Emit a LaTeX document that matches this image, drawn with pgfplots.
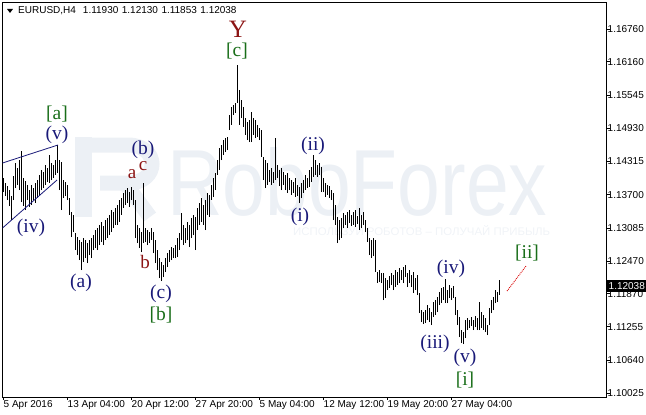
\documentclass[border=0pt]{standalone}
\usepackage{fontspec}
\setmainfont{Liberation Sans}
\newfontfamily\tms{Liberation Serif}
\usepackage{graphicx}
\usepackage{pgfplots}
\pgfplotsset{compat=1.18}
\usepackage{pgfplotstable}

\definecolor{navyl}{RGB}{25,25,120}
\definecolor{redl}{RGB}{140,20,20}
\definecolor{greenl}{RGB}{25,110,25}
\definecolor{wm}{RGB}{236,240,245}
\definecolor{wm2}{RGB}{240,243,247}

\pgfplotstableread{
i hi lo
0 1.14009 1.13750
1 1.13917 1.13676
2 1.13861 1.13602
3 1.13787 1.13491
4 1.13676 1.13232
5 1.14046 1.13602
6 1.14287 1.13824
7 1.14194 1.13880
8 1.14342 1.13787
9 1.14509 1.13565
10 1.14009 1.13491
11 1.13954 1.13417
12 1.13880 1.13602
13 1.13787 1.13473
14 1.13880 1.13510
15 1.13824 1.13602
16 1.13917 1.13547
17 1.13972 1.13639
18 1.14065 1.13695
19 1.14157 1.13787
20 1.14120 1.13824
21 1.14250 1.13880
22 1.14194 1.13935
23 1.14435 1.13917
24 1.14287 1.13972
25 1.14250 1.14009
26 1.14342 1.14065
27 1.14620 1.14102
28 1.14342 1.13787
29 1.14305 1.13417
30 1.13972 1.13639
31 1.13935 1.13676
32 1.13880 1.13602
33 1.13639 1.13325
34 1.13380 1.12918
35 1.13325 1.13010
36 1.12992 1.12677
37 1.12918 1.12585
38 1.12862 1.12492
39 1.12825 1.12307
40 1.12899 1.12455
41 1.12862 1.12529
42 1.12807 1.12437
43 1.12862 1.12585
44 1.12899 1.12529
45 1.12955 1.12677
46 1.13047 1.12714
47 1.13084 1.12677
48 1.13140 1.12770
49 1.13195 1.12825
50 1.13121 1.12770
51 1.13232 1.12862
52 1.13269 1.12899
53 1.13325 1.12955
54 1.13417 1.13010
55 1.13380 1.13084
56 1.13454 1.13140
57 1.13510 1.13140
58 1.13602 1.13195
59 1.13639 1.13325
60 1.13732 1.13454
61 1.13787 1.13510
62 1.13824 1.13547
63 1.13750 1.13473
64 1.13843 1.13602
65 1.13787 1.13510
66 1.13602 1.12899
67 1.13140 1.12807
68 1.13084 1.12714
69 1.13010 1.12640
70 1.13917 1.12807
71 1.13084 1.12825
72 1.13047 1.12770
73 1.13010 1.12807
74 1.13084 1.12862
75 1.13010 1.12622
76 1.12862 1.12437
77 1.12677 1.12307
78 1.12529 1.12159
79 1.12455 1.12104
80 1.12400 1.12178
81 1.12529 1.12270
82 1.12622 1.12363
83 1.12677 1.12455
84 1.12733 1.12492
85 1.12714 1.12529
86 1.12770 1.12529
87 1.12899 1.12548
88 1.12992 1.12677
89 1.13362 1.12862
90 1.13140 1.12770
91 1.13084 1.12807
92 1.13195 1.12862
93 1.13140 1.12733
94 1.13269 1.12899
95 1.13325 1.12955
96 1.13288 1.12677
97 1.13454 1.13047
98 1.13547 1.13140
99 1.13639 1.13195
100 1.13510 1.13140
101 1.13602 1.13047
102 1.13732 1.13325
103 1.13695 1.13288
104 1.13880 1.13602
105 1.14009 1.13658
106 1.14102 1.13787
107 1.14342 1.14065
108 1.14564 1.14157
109 1.14620 1.14342
110 1.14712 1.14435
111 1.14749 1.14490
112 1.14768 1.14527
113 1.15175 1.14897
114 1.15323 1.14990
115 1.15360 1.15175
116 1.15397 1.15212
117 1.16100 1.15397
118 1.15637 1.14990
119 1.15452 1.15119
120 1.15323 1.14953
121 1.15119 1.14805
122 1.15045 1.14712
123 1.15082 1.14675
124 1.15230 1.14675
125 1.15119 1.14805
126 1.15082 1.14749
127 1.14990 1.14768
128 1.14934 1.14712
129 1.14897 1.14398
130 1.14398 1.13972
131 1.14342 1.13824
132 1.14287 1.13880
133 1.14157 1.13935
134 1.14194 1.13880
135 1.14120 1.13917
136 1.14749 1.13972
137 1.14250 1.14009
138 1.14157 1.13861
139 1.14194 1.13787
140 1.14120 1.13880
141 1.14065 1.13787
142 1.14102 1.13732
143 1.14009 1.13787
144 1.13972 1.13695
145 1.13935 1.13732
146 1.14009 1.13658
147 1.13880 1.13676
148 1.13843 1.13547
149 1.13917 1.13639
150 1.13972 1.13732
151 1.14065 1.13787
152 1.14009 1.13824
153 1.14157 1.13843
154 1.14213 1.13935
155 1.14435 1.14028
156 1.14342 1.14065
157 1.14250 1.14028
158 1.14287 1.14065
159 1.14213 1.13750
160 1.14009 1.13750
161 1.13917 1.13658
162 1.13880 1.13695
163 1.13861 1.13639
164 1.13787 1.13602
165 1.13732 1.13232
166 1.13510 1.13140
167 1.13288 1.12807
168 1.13232 1.12862
169 1.13269 1.12899
170 1.13362 1.13084
171 1.13325 1.13140
172 1.13380 1.13084
173 1.13417 1.13177
174 1.13325 1.13121
175 1.13380 1.13140
176 1.13417 1.13103
177 1.13306 1.13158
178 1.13454 1.13047
179 1.13325 1.13084
180 1.13380 1.13140
181 1.13232 1.13010
182 1.13084 1.12825
183 1.12899 1.12585
184 1.12862 1.12529
185 1.12899 1.12566
186 1.12862 1.12270
187 1.12270 1.12067
188 1.12307 1.12085
189 1.12252 1.12067
190 1.12252 1.11752
191 1.12159 1.11789
192 1.12122 1.11937
193 1.12196 1.11974
194 1.12252 1.12030
195 1.12215 1.11937
196 1.12307 1.11993
197 1.12270 1.12030
198 1.12344 1.12067
199 1.12307 1.12122
200 1.12363 1.12067
201 1.12400 1.12178
202 1.12252 1.11993
203 1.12307 1.12067
204 1.12215 1.11993
205 1.12270 1.11882
206 1.12159 1.11937
207 1.12215 1.11845
208 1.11882 1.11512
209 1.11567 1.11345
210 1.11530 1.11308
211 1.11567 1.11327
212 1.11660 1.11382
213 1.11604 1.11345
214 1.11530 1.11290
215 1.11715 1.11438
216 1.11752 1.11475
217 1.11808 1.11530
218 1.11900 1.11660
219 1.11974 1.11697
220 1.11993 1.11752
221 1.12141 1.11697
222 1.11937 1.11697
223 1.12030 1.11789
224 1.11974 1.11752
225 1.12011 1.11789
226 1.11808 1.11475
227 1.11567 1.11290
228 1.11438 1.11068
229 1.11197 1.10957
230 1.11160 1.10938
231 1.11382 1.11049
232 1.11419 1.11197
233 1.11382 1.11234
234 1.11438 1.11271
235 1.11382 1.11197
236 1.11456 1.11253
237 1.11419 1.11197
238 1.11715 1.11197
239 1.11530 1.11234
240 1.11475 1.11197
241 1.11419 1.11160
242 1.11290 1.11105
243 1.11604 1.11290
244 1.11752 1.11512
245 1.11808 1.11567
246 1.11937 1.11697
247 1.11900 1.11715
248 1.12130 1.11853
}\bars

\tikzset{
  wl/.style={inner sep=0pt, font=\fontsize{19.5bp}{21bp}\selectfont\tms},
  wr/.style={inner sep=0pt, text=redl, font=\fontsize{19bp}{21bp}\selectfont\tms},
}

\begin{document}
\begin{tikzpicture}[x=1bp,y=1bp]
\useasboundingbox (0,0) rectangle (646,414);
% watermark (image coords: y_tikz = 414 - y)
\fill[wm] (75,277) rectangle (92,197);
\draw[wm, line width=15bp] (84,269) -- (128,269) .. controls (160,269) and (160,231) .. (128,231) -- (100,231);
\draw[wm, line width=15bp] (125,231) -- (150,197);
\node[anchor=base west, inner sep=0pt, text=wm] at (167,199) {\resizebox{380bp}{68bp}{RoboForex}};
\node[anchor=base west, inner sep=0pt, text=wm2] at (293,179) {\resizebox{257bp}{10bp}{ИСПОЛЬЗУЙ РОБОТОВ – ПОЛУЧАЙ ПРИБЫЛЬ}};

\begin{axis}[
  at={(2.5bp,17bp)}, anchor=south west, scale only axis,
  width=604bp, height=394bp,
  xmin=-0.25, xmax=301.75, ymin=1.09958, ymax=1.17247,
  axis line style={line width=1bp, black},
  tick align=outside, major tick length=3bp,
  tick style={black, line width=0.8bp},
  xtick pos=left, ytick pos=right, yticklabel pos=right,
  xtick={0,32,64,96,128,160,192,224},
  xticklabels={5 Apr 2016,13 Apr 04:00,20 Apr 12:00,27 Apr 20:00,5 May 04:00,12 May 12:00,19 May 20:00,27 May 04:00},
  ytick={1.10025,1.10640,1.11255,1.11870,1.12470,1.13085,1.13700,1.14315,1.14930,1.15545,1.16160,1.16760},
  yticklabels={1.10025,1.10640,1.11255,1.11870,1.12470,1.13085,1.13700,1.14315,1.14930,1.15545,1.16160,1.16760},
  ticklabel style={font=\fontsize{10bp}{12bp}\selectfont},
  xticklabel style={anchor=north west, inner sep=0pt, xshift=0.5bp},
  yticklabel style={anchor=west, inner sep=0pt, xshift=-2bp},
  clip=true,
]
\addplot[draw=none, mark=none,
  error bars/.cd, y dir=plus, y explicit, error mark=none,
  error bar style={draw=black, line width=0.9bp, solid}]
  table[x=i, y=lo, y error plus expr=\thisrow{hi}-\thisrow{lo}] {\bars};
% wedge lines
\addplot[navyl, line width=0.8bp] coordinates {(-0.25,1.14287) (27.5,1.14620)};
\addplot[navyl, line width=0.8bp] coordinates {(-0.25,1.13084) (27,1.13972)};
% projection
\addplot[red!85!black, line width=0.9bp, densely dotted] coordinates {(252,1.11918) (261.5,1.12381)};
% wave labels
\node[wl, text=greenl] at (axis cs:27,1.15193) {[a]};
\node[wl, text=navyl] at (axis cs:27,1.14805) {(v)};
\node[wl, text=navyl] at (axis cs:14,1.13084) {(iv)};
\node[wl, text=navyl] at (axis cs:39,1.12067) {(a)};
\node[wl, text=navyl] at (axis cs:70,1.14527) {(b)};
\node[wr] at (axis cs:64.5,1.14083) {a};
\node[wr] at (axis cs:70,1.14231) {c};
\node[wr] at (axis cs:71,1.12455) {b};
\node[wl, text=navyl] at (axis cs:79,1.11863) {(c)};
\node[wl, text=greenl] at (axis cs:79,1.11475) {[b]};
\node[inner sep=0pt, text=redl, font=\fontsize{25bp}{27bp}\selectfont\tms] at (axis cs:117.5,1.16765) {Y};
\node[wl, text=greenl] at (axis cs:117,1.16359) {[c]};
\node[wl, text=navyl] at (axis cs:155,1.14601) {(ii)};
\node[wl, text=navyl] at (axis cs:148.5,1.13288) {(i)};
\node[wl, text=navyl] at (axis cs:216,1.10938) {(iii)};
\node[wl, text=navyl] at (axis cs:224,1.12326) {(iv)};
\node[wl, text=navyl] at (axis cs:231,1.10679) {(v)};
\node[wl, text=greenl] at (axis cs:231,1.10272) {[i]};
\node[wl, text=greenl] at (axis cs:262,1.12622) {[ii]};
\end{axis}
% title
\fill[black] (7,405) -- (13,405) -- (10,401) -- cycle;
\node[anchor=base west, inner sep=0pt, font=\fontsize{10bp}{12bp}\selectfont] at (18,400) {EURUSD,H4\hspace{7bp}1.11930\hspace{3.5bp}1.12130\hspace{3.5bp}1.11853\hspace{3.5bp}1.12038};
% current price box
\fill[black] (607,122.5) rectangle (646,134);
\node[anchor=west, inner sep=0pt, text=white, font=\fontsize{10bp}{12bp}\selectfont] at (608.5,128.3) {1.12038};
\end{tikzpicture}
\end{document}
